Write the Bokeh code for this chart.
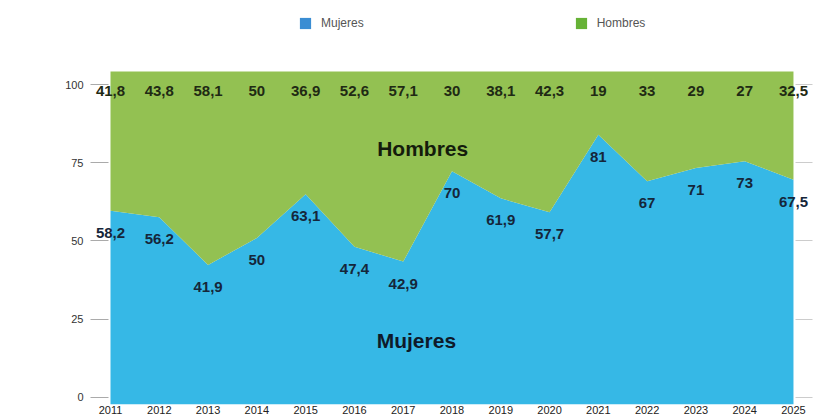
from bokeh.plotting import figure
from bokeh.models import (ColumnDataSource, Range1d, LinearAxis, FixedTicker,
                          Legend, LegendItem, LabelSet)
from bokeh.core.properties import value
from bokeh.embed import file_html
from bokeh.resources import INLINE

# ---- data ----
years = [2011, 2012, 2013, 2014, 2015, 2016, 2017, 2018, 2019, 2020, 2021, 2022, 2023, 2024, 2025]
mujeres = [58.2, 56.2, 41.9, 50, 63.1, 47.4, 42.9, 70, 61.9, 57.7, 81, 67, 71, 73, 67.5]
hombres = [41.8, 43.8, 58.1, 50, 36.9, 52.6, 57.1, 30, 38.1, 42.3, 19, 33, 29, 27, 32.5]
y_ticks = [0, 25, 50, 75, 100]
series_names = ["Mujeres", "Hombres"]


def fmt(v):
    return f"{v:g}".replace(".", ",")


BLUE = "#36B8E6"
GREEN = "#93C152"
BLUE_KEY = "#3A8DD3"
GREEN_KEY = "#66B236"
FONT = "Liberation Sans"

src = ColumnDataSource(dict(
    year=years,
    Mujeres=mujeres,
    Hombres=hombres,
    total=[m + h for m, h in zip(mujeres, hombres)],
    m_lab=[fmt(v) for v in mujeres],
    h_lab=[fmt(v) for v in hombres],
))

# white room around the area (above for the legend, at the sides for edge labels)
p = figure(width=817, height=418, output_backend="svg", toolbar_location=None,
           x_range=Range1d(2010.59, 2025.39), y_range=Range1d(0, 121.3),
           min_border_left=90, min_border_right=5, min_border_top=0,
           min_border_bottom=14, x_axis_location="below", y_axis_location=None)
p.background_fill_color = "white"
p.border_fill_color = "white"
p.outline_line_color = None
p.grid.visible = False

# stacked areas
areas = p.varea_stack(stackers=series_names, x="year", color=[BLUE, GREEN], source=src)

# value labels
p.add_layout(LabelSet(x="year", y="total", text="h_lab", source=src,
                      text_align="center", text_baseline="middle", y_offset=-20,
                      text_font=value(FONT), text_font_size="15px",
                      text_font_style="bold", text_color="#1f2a14"))
p.add_layout(LabelSet(x="year", y="Mujeres", text="m_lab", source=src,
                      text_align="center", text_baseline="middle", y_offset=-22,
                      text_font=value(FONT), text_font_size="15px",
                      text_font_style="bold", text_color="#15263a"))

# series names inside the areas
p.text(x=[2017.4], y=[76.9], text=["Hombres"], text_align="center",
       text_baseline="middle", text_font=value(FONT), text_font_size="21px",
       text_font_style="bold", text_color="#141c0c")
p.text(x=[2017.27], y=[19.2], text=["Mujeres"], text_align="center",
       text_baseline="middle", text_font=value(FONT), text_font_size="21px",
       text_font_style="bold", text_color="#0e1a2a")

# axes: the tick scale sits slightly inside the area (perspective of the original)
p.extra_y_ranges = {"axis": Range1d(-2.24, 126.84)}
left = LinearAxis(y_range_name="axis", ticker=FixedTicker(ticks=y_ticks))
left.axis_line_color = None
left.major_tick_out = 0
left.major_tick_in = 18
left.minor_tick_line_color = None
left.major_tick_line_color = "#aaaaaa"
left.major_label_standoff = 7
left.major_label_text_font = FONT
left.major_label_text_font_size = "11px"
left.major_label_text_color = "#333333"
p.add_layout(left, "left")

right = LinearAxis(y_range_name="axis", ticker=FixedTicker(ticks=y_ticks))
right.axis_line_color = None
right.major_tick_out = 0
right.major_tick_in = 17
right.minor_tick_line_color = None
right.major_tick_line_color = "#cccccc"
right.major_label_text_color = None
right.major_label_standoff = 0
right.major_label_text_font_size = "1px"
p.add_layout(right, "right")

xa = p.xaxis[0]
xa.ticker = FixedTicker(ticks=years)
xa.axis_line_color = None
xa.major_tick_line_color = None
xa.minor_tick_line_color = None
xa.major_tick_out = 0
xa.major_tick_in = 0
xa.major_label_standoff = 1
xa.major_label_text_font = FONT
xa.major_label_text_font_size = "11px"
xa.major_label_text_color = "#222222"

# legend swatches: zero-size helper quads, only used for the legend keys
k1 = p.quad(left=[years[0]], right=[years[0]], top=[0], bottom=[0],
            fill_color=BLUE_KEY, line_color=None)
k2 = p.quad(left=[years[0]], right=[years[0]], top=[0], bottom=[0],
            fill_color=GREEN_KEY, line_color=None)
legend = Legend(items=[LegendItem(label=series_names[0], renderers=[k1]),
                       LegendItem(label=series_names[1], renderers=[k2])],
                orientation="horizontal", location=(208, 374),
                glyph_width=14, glyph_height=14, label_standoff=9, spacing=210,
                padding=0, margin=0, border_line_color=None,
                background_fill_alpha=0, label_text_font=FONT,
                label_text_font_size="12px", label_text_color="#555555",
                label_height=10)
p.add_layout(legend, "center")

open("out.html", "w").write(file_html(p, INLINE))
